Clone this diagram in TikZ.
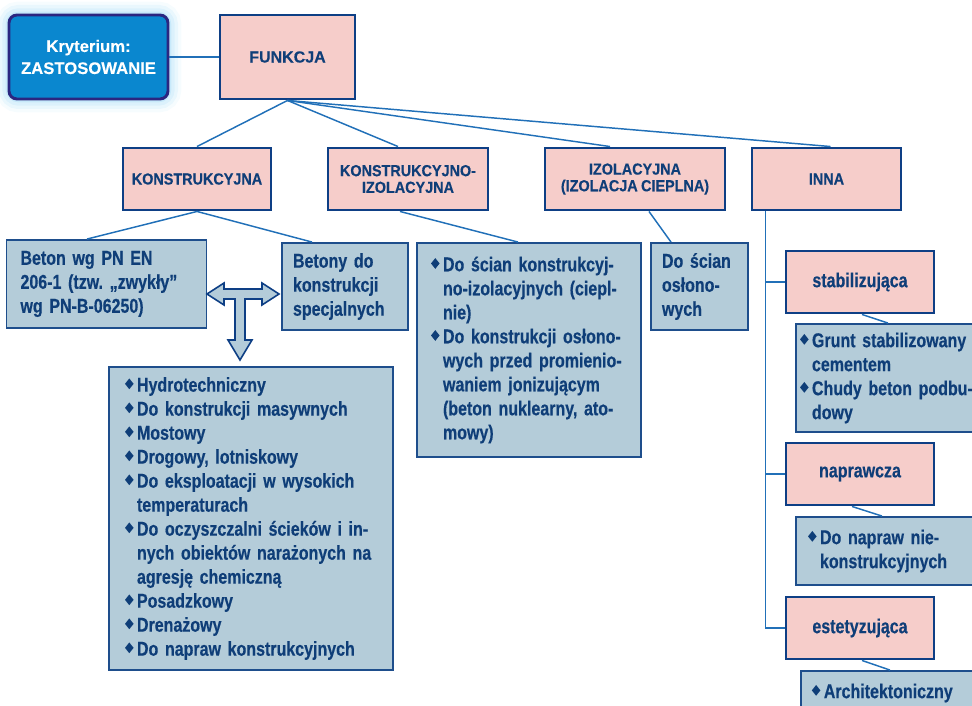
\documentclass[tikz,border=0pt]{standalone}
\usepackage{fontspec}
\setmainfont[FakeStretch=0.8, WordSpace=0.75, FakeBold=0.4]{Liberation Sans}
\newfontfamily\capsfont[FakeStretch=0.9, WordSpace=0.85, FakeBold=0.3]{Liberation Sans}
\newfontfamily\widefont[FakeBold=0.3]{Liberation Sans}
\usetikzlibrary{calc}
\frenchspacing

\definecolor{pinkfill}{HTML}{F6CDCA}
\definecolor{navyb}{HTML}{0E3F85}
\definecolor{bluefill}{HTML}{B4CCD9}
\definecolor{blueb}{HTML}{1E4E8C}
\definecolor{txtnavy}{HTML}{0F3E78}
\definecolor{linkc}{HTML}{2170B8}
\definecolor{kritfill}{HTML}{0A87CF}
\definecolor{kritb}{HTML}{2B2680}
\definecolor{glowc}{HTML}{8FD3F5}

% diamond bullet and the matching hanging indent
\newcommand\bul{\makebox[0.6em][l]{\raisebox{0.2em}{\scalebox{0.8}[1]{\rotatebox[origin=c]{45}{\rule{0.38em}{0.38em}}}}}}
\newcommand\cnt{\hspace*{0.6em}}

\begin{document}
\begin{tikzpicture}[x=0.75pt,y=-0.75pt,
  link/.style={draw=linkc, line width=1.1pt},
  krit/.style={draw=kritb, fill=kritfill, line width=2.2pt, rounded corners=6pt,
    minimum width=119.25pt, minimum height=63pt, align=center, text=white,
    font=\widefont\bfseries\fontsize{12.5}{16.5}\selectfont},
  pinkbox/.style={draw=navyb, fill=pinkfill, line width=2.2pt, align=center,
    text=txtnavy, minimum height=46.5pt},
  capsl/.style={font=\capsfont\bfseries\fontsize{12}{12.5}\selectfont},
  lowl/.style={font=\bfseries\fontsize{15}{18}\selectfont},
  bluebox/.style={draw=blueb, fill=bluefill, line width=1.4pt, align=left,
    text=txtnavy, font=\bfseries\fontsize{15}{18}\selectfont},
  tarrow/.style={draw=navyb, fill=bluefill, line width=1.2pt, line join=miter}
]
\useasboundingbox (0,0) rectangle (972,706);
\clip (0,0) rectangle (972,706);

% --- criterion box with its soft halo
\foreach \w/\o in {20/0.08, 15/0.12, 10/0.16, 5/0.26}
  \draw[glowc, line width=\w pt, opacity=\o, rounded corners=7pt] (9,15) rectangle (168,99);
\node[krit] (krit) at (88.5,57) {Kryterium:\\ZASTOSOWANIE};

% --- top level
\node[pinkbox, minimum width=101.25pt, minimum height=63pt,
  font=\widefont\bfseries\fontsize{12}{12.5}\selectfont] (funkcja) at (287.5,57) {FUNKCJA};

% --- second level
\node[pinkbox, capsl, minimum width=111pt]    (konstr) at (197,179) {KONSTRUKCYJNA};
\node[pinkbox, capsl, minimum width=120pt]    (ki)     at (408,179) {KONSTRUKCYJNO-\\IZOLACYJNA};
\node[pinkbox, capsl, minimum width=135pt]    (izol)   at (635,179) {IZOLACYJNA\\(IZOLACJA CIEPLNA)};
\node[pinkbox, capsl, minimum width=111.75pt] (inna)   at (826.5,179) {INNA};

% --- structural concretes
\node[bluebox, text width=129pt, inner xsep=10.5pt, minimum height=66pt] (beton) at (106.5,284)
  {Beton wg PN EN\\206-1 (tzw. „zwykły”\\wg PN-B-06250)};
\node[bluebox, text width=78pt, inner xsep=8.25pt, minimum height=65.25pt] (betony) at (345,286.5)
  {Betony do\\konstrukcji\\specjalnych};
\node[bluebox, text width=189pt, inner xsep=12pt, minimum height=227.25pt] (hydro) at (251,518.5)
  {\bul Hydrotechniczny\\
   \bul Do konstrukcji masywnych\\
   \bul Mostowy\\
   \bul Drogowy, lotniskowy\\
   \bul Do eksploatacji w wysokich\\
   \cnt temperaturach\\
   \bul Do oczyszczalni ścieków i in-\\
   \cnt nych obiektów narażonych na\\
   \cnt agresję chemiczną\\
   \bul Posadzkowy\\
   \bul Drenażowy\\
   \bul Do napraw konstrukcyjnych};

% --- structural-insulating and insulating
\node[bluebox, text width=147pt, inner xsep=10.5pt, minimum height=160.5pt] (dosc) at (529,350)
  {\bul Do ścian konstrukcyj-\\
   \cnt no-izolacyjnych (ciepl-\\
   \cnt nie)\\
   \bul Do konstrukcji osłono-\\
   \cnt wych przed promienio-\\
   \cnt waniem jonizującym\\
   \cnt (beton nuklearny, ato-\\
   \cnt mowy)};
\node[bluebox, text width=56.25pt, inner xsep=8.25pt, minimum height=65.25pt] (doso) at (699.5,286.5)
  {Do ścian\\osłono-\\wych};

% --- other functions
\node[pinkbox, lowl, minimum width=111pt] (stab)  at (860,282) {stabilizująca};
\node[pinkbox, lowl, minimum width=111pt] (napr)  at (860,474) {naprawcza};
\node[pinkbox, lowl, minimum width=111pt] (estet) at (860,628) {estetyzująca};
\node[bluebox, text width=147pt, inner xsep=3pt, minimum height=81pt] (grunt) at (898,378)
  {\bul Grunt stabilizowany\\
   \cnt cementem\\
   \bul Chudy beton podbu-\\
   \cnt dowy};
\node[bluebox, text width=135pt, inner xsep=9pt, minimum height=51pt] (donap) at (898,551)
  {\bul Do napraw nie-\\
   \cnt konstrukcyjnych};
\node[bluebox, text width=133pt, inner xsep=8.25pt, minimum height=33pt] (arch) at (900.5,693)
  {\bul Architektoniczny};

% --- connectors
\draw[link] (krit.east) -- (funkcja.west);
\draw[link] (funkcja.south) -- (konstr.north);
\draw[link] (funkcja.south) -- ($(ki.north)+(-10,0)$);
\draw[link] (funkcja.south) -- ($(izol.north)+(-25,0)$);
\draw[link] (funkcja.south) -- ($(inna.north)+(4,0)$);
\draw[link] (konstr.south) -- ($(beton.north)+(-19.5,0)$);
\draw[link] (konstr.south) -- ($(betony.north)+(-33,0)$);
\draw[link] ($(ki.south)+(-8,0)$) -- ($(dosc.north)+(-11,0)$);
\draw[link] ($(izol.south)+(14,0)$) -- ($(doso.north)+(-28.5,0)$);
\coordinate (trunk) at ($(inna.south west)+(15,0)$);
\draw[link] (trunk) |- (estet.west);
\draw[link] (trunk) |- (stab.west);
\draw[link] (trunk) |- (napr.west);
\draw[link] ($(stab.south)+(2,0)$) -- ($(grunt.north)+(-10,0)$);
\draw[link] ($(napr.south)+(-8,0)$) -- ($(donap.north)+(-16,0)$);
\draw[link] ($(estet.south)+(2,0)$) -- ($(arch.north)+(-10.5,0)$);

% --- T-shaped arrow between the concrete groups
\draw[tarrow] (207,294) -- (224,283) -- (224,289) -- (262,289) -- (262,283) -- (279,294)
  -- (262,305) -- (262,299) -- (245,299) -- (245,340) -- (252,340) -- (240,360)
  -- (228,340) -- (235,340) -- (235,299) -- (224,299) -- (224,305) -- cycle;
\end{tikzpicture}
\end{document}
